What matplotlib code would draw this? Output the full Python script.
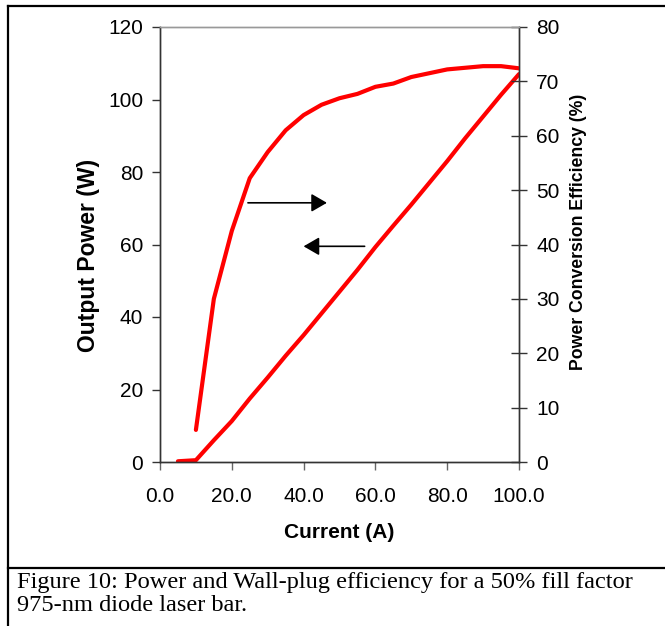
import numpy as np
import matplotlib
matplotlib.use('Agg')
import matplotlib.pyplot as plt
from matplotlib.lines import Line2D

# values
current_p = [5, 10, 15, 20, 25, 30, 35, 40, 45, 50, 55, 60, 65, 70, 75, 80, 85, 90, 95, 100]
power = [0.2, 0.5, 6.0, 11.3, 17.5, 23.3, 29.3, 35.0, 41.0, 47.0, 53.0, 59.3, 65.2, 71.0, 77.0, 83.0, 89.3, 95.3, 101.3, 107.0]

current_e = [10, 15, 20, 25, 30, 35, 40, 45, 50, 55, 60, 65, 70, 75, 80, 85, 90, 95, 100]
efficiency = [5.9, 30.0, 42.5, 52.2, 57.0, 61.0, 63.8, 65.7, 66.9, 67.7, 69.0, 69.6, 70.8, 71.5, 72.2, 72.5, 72.8, 72.8, 72.4]

xticks = [0, 20, 40, 60, 80, 100]
yticks_l = [0, 20, 40, 60, 80, 100, 120]
yticks_r = [0, 10, 20, 30, 40, 50, 60, 70, 80]

caption = ("Figure 10: Power and Wall-plug efficiency for a 50% fill factor\n"
           "975-nm diode laser bar.")

plt.rcParams['font.family'] = ['Liberation Sans', 'DejaVu Sans']

fig = plt.figure(figsize=(6.65, 6.26), dpi=100)
W, H = 665, 626
ax = fig.add_axes([160 / W, 1 - 462 / H, (519 - 160) / W, (462 - 27) / H])
ax2 = ax.twinx()

ax.plot(current_p, power, color='#ff0000', lw=3, solid_capstyle='round', solid_joinstyle='round')
ax2.plot(current_e, efficiency, color='#ff0000', lw=3, solid_capstyle='round', solid_joinstyle='round')

ax.set_xlim(0, 100)
ax.set_ylim(0, 120)
ax2.set_ylim(0, 80)
ax.set_xticks(xticks)
ax.set_xticklabels(['%.1f' % v for v in xticks])
ax.set_yticks(yticks_l)
ax2.set_yticks(yticks_r)

for a in (ax, ax2):
    for s in a.spines.values():
        s.set_color('#333333')
        s.set_linewidth(1.0)
    a.spines['top'].set_color('#999999')

ax.tick_params(axis='x', direction='out', length=6, width=1, pad=12, labelsize=15, color='#666666')
ax.tick_params(axis='y', direction='out', length=6, width=1, pad=6, labelsize=15, color='#333333')
ax2.tick_params(axis='y', direction='inout', length=11, width=1, pad=7, labelsize=15, color='#333333')

ax.set_xlabel('Current (A)', fontsize=15, fontweight='bold', labelpad=12)
ax.set_ylabel('Output Power (W)', fontsize=16.5, fontweight='bold')
ax2.set_ylabel('Power Conversion Efficiency (%)', fontsize=12.7, fontweight='bold')
# label positions as placed in the reference (axes fraction)
ax.yaxis.set_label_coords(-60 / 359, (462 - 255) / 435)
ax2.yaxis.set_label_coords((570 - 160) / 359, (462 - 232) / 435)

# arrows pointing to the matching axis
arrow = dict(arrowstyle='-|>,head_length=0.95,head_width=0.55', color='black', lw=1.2,
             shrinkA=0, shrinkB=0)
ax.annotate('', xy=(46.5, 71.5), xytext=(24.5, 71.5), arrowprops=arrow)
ax.annotate('', xy=(40.0, 59.5), xytext=(57.0, 59.5), arrowprops=arrow)

# page frame and caption box
fig.add_artist(Line2D([8 / W, 1], [1 - 6 / H, 1 - 6 / H], color='black', lw=1.6))
fig.add_artist(Line2D([8 / W, 8 / W], [0, 1 - 6 / H], color='black', lw=1.6))
fig.add_artist(Line2D([8 / W, 1], [1 - 568 / H, 1 - 568 / H], color='black', lw=1.6))
fig.text(17 / W, 1 - 572 / H, caption, fontsize=17.6, family=['Liberation Serif'],
         va='top', ha='left', linespacing=1.13)

fig.savefig('out.png', dpi=100)
